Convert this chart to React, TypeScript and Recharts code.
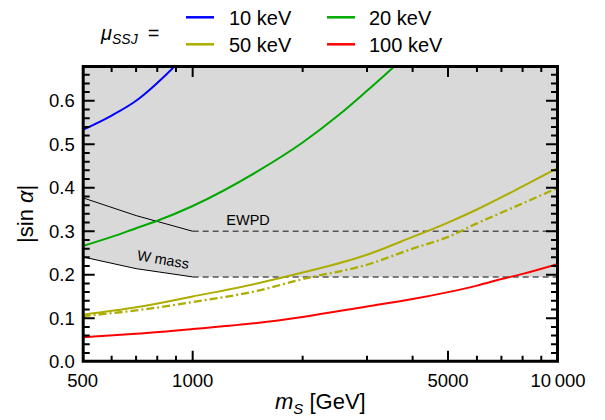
import React from 'react';
import { ComposedChart, Line, Area, XAxis, YAxis, ReferenceDot, ReferenceArea } from 'recharts';

const FONT = '"Liberation Sans", Arial, Helvetica, sans-serif';

// ---------- axes ----------
const X_DOMAIN = [500, 10000];
const X_TICKS = [600, 700, 800, 900, 1000, 2000, 3000, 4000, 5000, 6000, 7000, 8000, 9000];
const X_MAJOR = [500, 1000, 5000, 10000];
const X_LABELS: Record<number, string> = { 500: '500', 1000: '1000', 5000: '5000', 10000: '10\u2009000' };
const Y_DOMAIN = [0, 0.68];
const Y_TICKS = [0.02, 0.04, 0.06, 0.08, 0.1, 0.12, 0.14, 0.16, 0.18, 0.2, 0.22, 0.24, 0.26, 0.28, 0.3,
  0.32, 0.34, 0.36, 0.38, 0.4, 0.42, 0.44, 0.46, 0.48, 0.5, 0.52, 0.54, 0.56, 0.58, 0.6, 0.62, 0.64, 0.66];
const Y_MAJOR = [0, 0.1, 0.2, 0.3, 0.4, 0.5, 0.6];

// ---------- series (m_S in GeV, |sin alpha|) ----------
const M_BLUE = [500, 600, 700, 800, 900, 1000];
const S_BLUE = [0.533, 0.566, 0.6, 0.641, 0.683, 0.73];

const M_GREEN = [500, 600, 700, 800, 1000, 1500, 2000, 2500, 3000, 3500, 4000];
const S_GREEN = [0.266, 0.287, 0.307, 0.324, 0.358, 0.437, 0.504, 0.566, 0.623, 0.673, 0.72];

const M_OLIVE = [500, 700, 1000, 1500, 2000, 3000, 4000, 5000, 6000, 8000, 10000];
const S_OLIVE = [0.108, 0.125, 0.15, 0.18, 0.205, 0.246, 0.287, 0.32, 0.35, 0.403, 0.446];
const S_OLIVE_DASHDOT = [0.105, 0.118, 0.137, 0.163, 0.19, 0.223, 0.26, 0.287, 0.318, 0.364, 0.4];

const M_RED = [500, 700, 1000, 1500, 2000, 3000, 4000, 5000, 6000, 7000, 8000, 10000];
const S_RED = [0.056, 0.064, 0.075, 0.089, 0.103, 0.127, 0.144, 0.16, 0.175, 0.19, 0.202, 0.225];

// ---------- constraint boundaries ----------
const M_BOUND = [500, 700, 1000];
const S_EWPD = [0.377, 0.336, 0.3];
const S_WMASS = [0.241, 0.214, 0.195];
const M_BOUND_EXT = [1000, 10000];
const S_EWPD_EXT = [0.3, 0.3];
const S_WMASS_EXT = [0.195, 0.195];
const M_SHADE = [500, 700, 1000, 10000];
const S_SHADE_LOW = [0.241, 0.214, 0.195, 0.195];

const ANNOTATIONS = [
  { text: 'EWPD', m: 1418, s: 0.326, angle: 0 },
  { text: 'W mass', m: 830, s: 0.235, angle: 10 },
];

const BLUE = '#0000ff';
const GREEN = '#00a800';
const OLIVE = '#adad00';
const RED = '#ff0000';

const LEGEND = [
  { label: '10 keV', color: BLUE },
  { label: '20 keV', color: GREEN },
  { label: '50 keV', color: OLIVE },
  { label: '100 keV', color: RED },
];

// ---------- layout ----------
const W = 597;
const H = 412;
const MARGIN = { top: 58, right: 47, left: 0, bottom: 0 };
const Y_AXIS_W = 74.7;
const X_AXIS_H = 58.3;
const PLOT_W = W - MARGIN.right - MARGIN.left - Y_AXIS_W;
const PLOT_H = H - MARGIN.top - MARGIN.bottom - X_AXIS_H;
const TICK_X_MAJOR_PX = 11;
const TICK_X_MINOR_PX = 6;
const TICK_Y_MAJOR_PX = 12;
const TICK_Y_MINOR_PX = 7;

const zip = (ms: number[], ss: number[]) => ms.map((m, i) => ({ m, s: ss[i] }));
const shadeData = M_SHADE.map((m, i) => ({ m, band: [S_SHADE_LOW[i], Y_DOMAIN[1]] }));

const isMajorY = (v: number) => Y_MAJOR.some((t) => Math.abs(t - v) < 1e-6);
const yPerPx = (Y_DOMAIN[1] - Y_DOMAIN[0]) / PLOT_H;
const logPerPx = Math.log10(X_DOMAIN[1] / X_DOMAIN[0]) / PLOT_W;

// inward tick stubs, as broken line segments along each frame edge
const xStubs = (edge: number, dir: number) =>
  X_TICKS.flatMap((m) => {
    const len = (X_MAJOR.includes(m) ? TICK_X_MAJOR_PX : TICK_X_MINOR_PX) * yPerPx;
    return [{ m, s: edge }, { m, s: edge + dir * len }, { m, s: null }];
  });
const yStubs = (edge: number, dir: number) =>
  Y_TICKS.flatMap((s) => {
    const len = (isMajorY(s) ? TICK_Y_MAJOR_PX : TICK_Y_MINOR_PX) * logPerPx;
    const m2 = edge * Math.pow(10, dir * len);
    return [{ m: edge, s }, { m: m2, s }, { m: m2, s: null }];
  });
const bottomStubs = xStubs(Y_DOMAIN[0], 1);
const topStubs = xStubs(Y_DOMAIN[1], -1);
const leftStubs = yStubs(X_DOMAIN[0], 1);
const rightStubs = yStubs(X_DOMAIN[1], -1);
const frameData = [
  { m: X_DOMAIN[0], s: Y_DOMAIN[0] },
  { m: X_DOMAIN[1], s: Y_DOMAIN[0] },
  { m: X_DOMAIN[1], s: Y_DOMAIN[1] },
  { m: X_DOMAIN[0], s: Y_DOMAIN[1] },
  { m: X_DOMAIN[0], s: Y_DOMAIN[0] },
];

// tick labels (axis) -----------------------------------------------------
const renderBottomLabel = (p: any) => {
  const v = p.payload.value;
  return (
    <text x={Number(p.x)} y={Number(p.y) + 25} textAnchor="middle" fontSize={18.5} fontFamily={FONT} fill="#000">
      {X_LABELS[v]}
    </text>
  );
};
const renderLeftLabel = (p: any) => {
  const v = p.payload.value;
  return (
    <text x={Number(p.x) - 8} y={Number(p.y) + 6.5} textAnchor="end" fontSize={18.5} fontFamily={FONT} fill="#000">
      {v.toFixed(1)}
    </text>
  );
};

const renderXTitle = (props: any) => {
  const vb = props.viewBox;
  return (
    <text x={vb.x + vb.width / 2} y={vb.y + 47} textAnchor="middle" fontSize={22} fontFamily={FONT} fill="#000">
      <tspan fontStyle="italic">m</tspan>
      <tspan fontStyle="italic" fontSize={15} dy={5}>S</tspan>
      <tspan dy={-5}> [GeV]</tspan>
    </text>
  );
};
const renderYTitle = (props: any) => {
  const vb = props.viewBox;
  const cx = 25;
  const cy = vb.y + vb.height / 2;
  return (
    <text x={cx} y={cy} transform={`rotate(-90 ${cx} ${cy})`} textAnchor="middle" fontSize={22} fontFamily={FONT} fill="#000">
      <tspan>|sin </tspan>
      <tspan fontStyle="italic">α</tspan>
      <tspan>|</tspan>
    </text>
  );
};

const makeAnnot = (text: string, angle: number) => (props: any) => {
  const vb = props.viewBox;
  const cx = vb.x + (vb.width || 0) / 2;
  const cy = vb.y + (vb.height || 0) / 2;
  return (
    <text x={cx} y={cy + 5} transform={`rotate(${angle} ${cx} ${cy})`} textAnchor="middle" fontSize={14.5} fontFamily={FONT} fill="#000">
      {text}
    </text>
  );
};

const LegendOverlay = () => {
  const rows = [9.3, 36.3];
  const cols = [{ l: 178, t: 221 }, { l: 319, t: 361 }];
  return (
    <svg width={W} height={56} style={{ position: 'absolute', left: 0, top: 0, pointerEvents: 'none' }}>
      <text x={93} y={32} fontSize={20} fontFamily={FONT} fill="#000">
        <tspan fontStyle="italic">μ</tspan>
        <tspan fontStyle="italic" fontSize={14} dy={4}>SSJ</tspan>
        <tspan dy={-4}>{'\u2002='}</tspan>
      </text>
      {LEGEND.map((it, i) => {
        const r = rows[Math.floor(i / 2)];
        const c = cols[i % 2];
        return (
          <g key={it.label}>
            <line x1={c.l} x2={c.l + 28} y1={r} y2={r} stroke={it.color} strokeWidth={2.5} />
            <text x={c.t} y={r + 7.2} fontSize={20} fontFamily={FONT} fill="#000">{it.label}</text>
          </g>
        );
      })}
    </svg>
  );
};

const NOANIM = { isAnimationActive: false };

export default function App() {
  return (
    <div style={{ position: 'relative', width: W, height: H }}>
      <ComposedChart width={W} height={H} margin={MARGIN}>
        <XAxis
          xAxisId="b"
          dataKey="m"
          type="number"
          scale="log"
          domain={X_DOMAIN}
          allowDataOverflow
          ticks={X_MAJOR}
          interval={0}
          orientation="bottom"
          height={X_AXIS_H}
          tickSize={0}
          tickMargin={0}
          tickLine={false}
          axisLine={false}
          tick={renderBottomLabel}
          label={renderXTitle}
        />
        <YAxis
          yAxisId="l"
          type="number"
          domain={Y_DOMAIN}
          allowDataOverflow
          ticks={Y_MAJOR}
          interval={0}
          orientation="left"
          width={Y_AXIS_W}
          tickSize={0}
          tickMargin={0}
          tickLine={false}
          axisLine={false}
          tick={renderLeftLabel}
          label={renderYTitle}
        />
        <Area
          data={shadeData}
          xAxisId="b"
          yAxisId="l"
          dataKey="band"
          type="linear"
          fill="#d9d9d9"
          fillOpacity={1}
          stroke="none"
          {...NOANIM}
        />
        <Line data={zip(M_BOUND_EXT, S_EWPD_EXT)} xAxisId="b" yAxisId="l" dataKey="s" stroke="#555" strokeWidth={1.5} strokeDasharray="6 4" dot={false} {...NOANIM} />
        <Line data={zip(M_BOUND_EXT, S_WMASS_EXT)} xAxisId="b" yAxisId="l" dataKey="s" stroke="#555" strokeWidth={1.5} strokeDasharray="6 4" dot={false} {...NOANIM} />
        <Line data={zip(M_BOUND, S_EWPD)} xAxisId="b" yAxisId="l" dataKey="s" type="linear" stroke="#000" strokeWidth={1} dot={false} {...NOANIM} />
        <Line data={zip(M_BOUND, S_WMASS)} xAxisId="b" yAxisId="l" dataKey="s" type="linear" stroke="#000" strokeWidth={1} dot={false} {...NOANIM} />
        <Line data={zip(M_BLUE, S_BLUE)} xAxisId="b" yAxisId="l" dataKey="s" type="monotone" stroke={BLUE} strokeWidth={2} dot={false} {...NOANIM} />
        <Line data={zip(M_GREEN, S_GREEN)} xAxisId="b" yAxisId="l" dataKey="s" type="monotone" stroke={GREEN} strokeWidth={2} dot={false} {...NOANIM} />
        <Line data={zip(M_OLIVE, S_OLIVE)} xAxisId="b" yAxisId="l" dataKey="s" type="monotone" stroke={OLIVE} strokeWidth={2} dot={false} {...NOANIM} />
        <Line data={zip(M_OLIVE, S_OLIVE_DASHDOT)} xAxisId="b" yAxisId="l" dataKey="s" type="monotone" stroke={OLIVE} strokeWidth={2.3} strokeDasharray="8 3 2 3" dot={false} {...NOANIM} />
        <Line data={zip(M_RED, S_RED)} xAxisId="b" yAxisId="l" dataKey="s" type="monotone" stroke={RED} strokeWidth={2} dot={false} {...NOANIM} />
        {/* frame and inward tick marks */}
        <Line data={bottomStubs} xAxisId="b" yAxisId="l" dataKey="s" type="linear" stroke="#000" strokeWidth={2} dot={false} activeDot={false} connectNulls={false} {...NOANIM} />
        <Line data={topStubs} xAxisId="b" yAxisId="l" dataKey="s" type="linear" stroke="#000" strokeWidth={2} dot={false} activeDot={false} connectNulls={false} {...NOANIM} />
        <Line data={leftStubs} xAxisId="b" yAxisId="l" dataKey="s" type="linear" stroke="#000" strokeWidth={2} dot={false} activeDot={false} connectNulls={false} {...NOANIM} />
        <Line data={rightStubs} xAxisId="b" yAxisId="l" dataKey="s" type="linear" stroke="#000" strokeWidth={2} dot={false} activeDot={false} connectNulls={false} {...NOANIM} />
        <Line data={frameData} xAxisId="b" yAxisId="l" dataKey="s" type="linear" stroke="#000" strokeWidth={4} dot={false} activeDot={false} {...NOANIM} />
        {ANNOTATIONS.map((a) => (
          <ReferenceDot key={a.text} xAxisId="b" yAxisId="l" x={a.m} y={a.s} r={1} fill="none" stroke="none" label={makeAnnot(a.text, a.angle)} />
        ))}
        <ReferenceArea
          xAxisId="b"
          yAxisId="l"
          x1={X_DOMAIN[0]}
          x2={X_DOMAIN[1]}
          y1={Y_DOMAIN[0]}
          y2={Y_DOMAIN[1]}
          fill="none"
          fillOpacity={0}
          stroke="#000"
          strokeWidth={2}
          ifOverflow="visible"
        />
      </ComposedChart>
      <LegendOverlay />
    </div>
  );
}
